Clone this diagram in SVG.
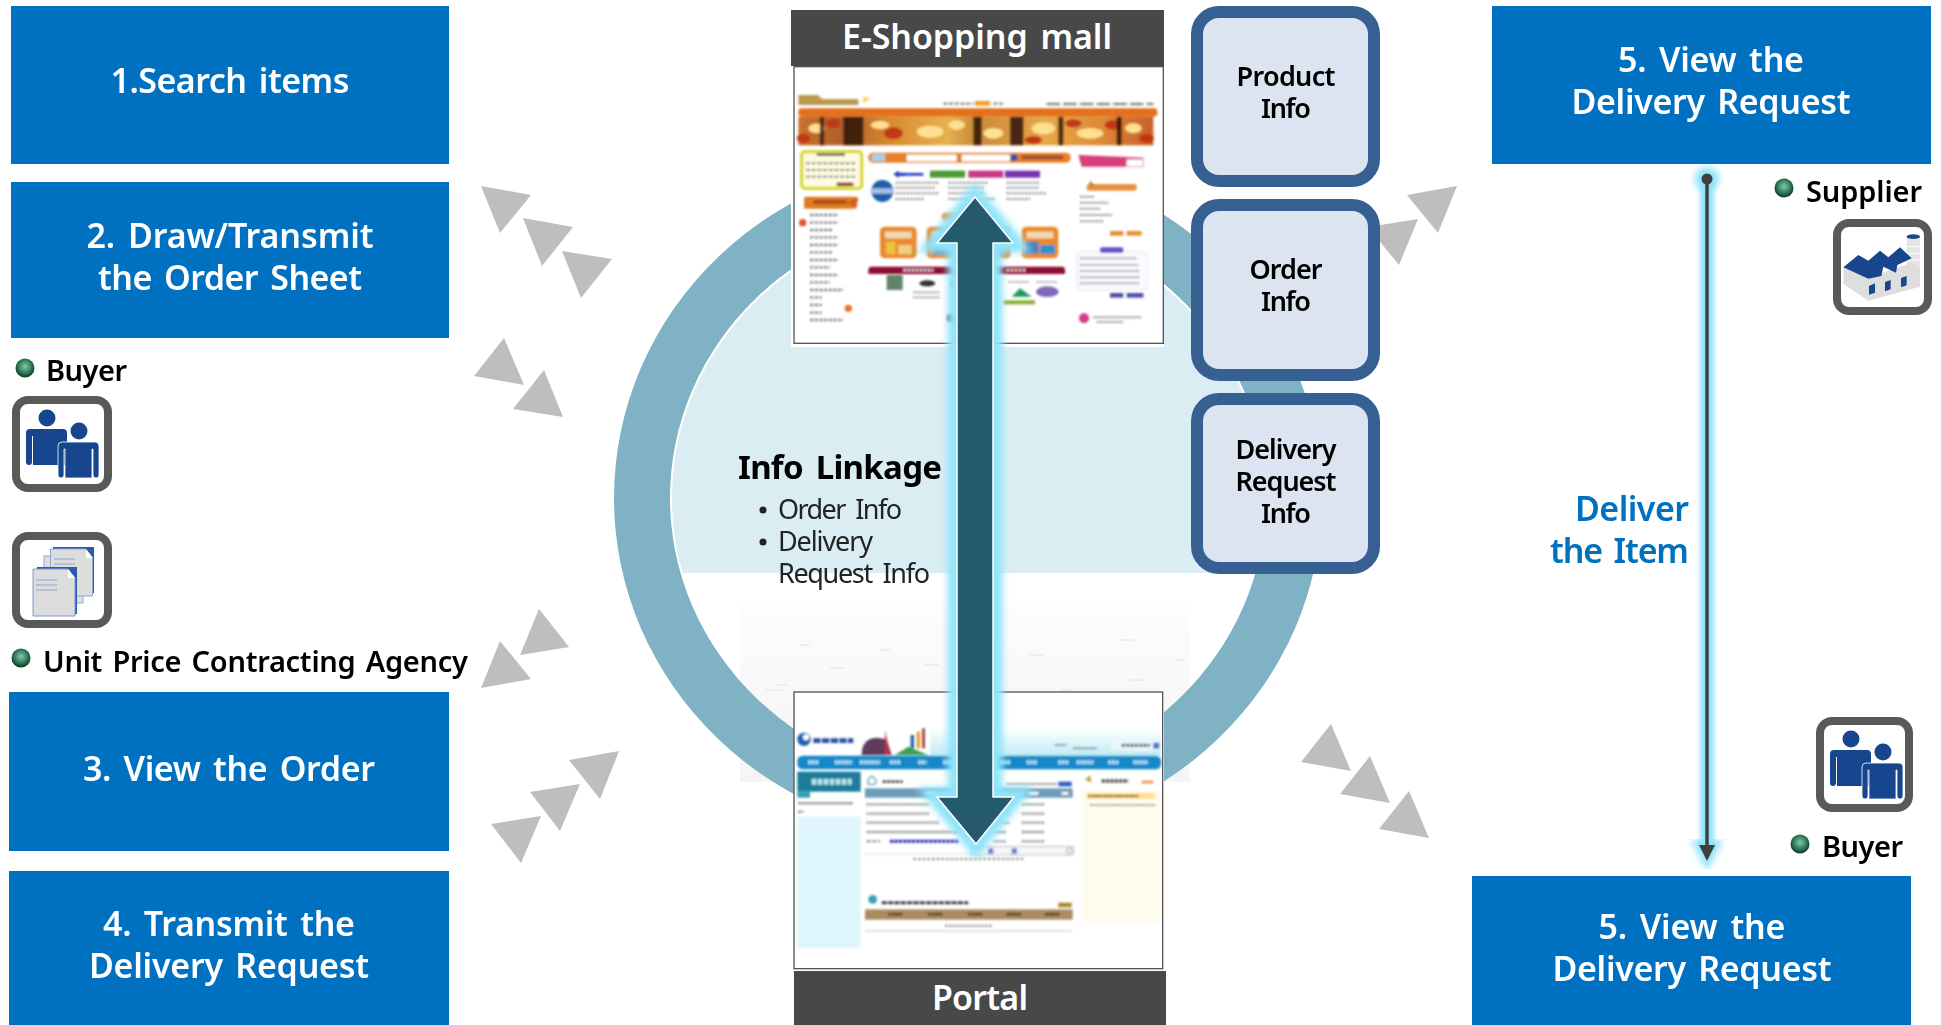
<svg xmlns="http://www.w3.org/2000/svg" xmlns:xlink="http://www.w3.org/1999/xlink" width="1941" height="1025" viewBox="0 0 1941 1025">
<style>
text{font-family:"Noto Sans","Open Sans","Liberation Sans",sans-serif}
.bx{fill:#0070C0}
.bt{fill:#fff;font-size:34px;font-weight:600;text-anchor:middle;word-spacing:4px}
.hd{fill:#484848}
.info{fill:#DBE4F0;stroke:#376092;stroke-width:12}
.it{fill:#000;font-size:27px;font-weight:600;text-anchor:middle}
.lb{fill:#000;font-size:29px;font-weight:600;word-spacing:3px}
.tri{fill:#BEBEBE}
.ic{fill:#fff;stroke:#595959;stroke-width:8}
.p{fill:#17468F}
.sm{fill:#222;font-size:27px;word-spacing:5px}
.d{stroke:#8A8A8A;stroke-width:5;stroke-dasharray:12 5;fill:none}
</style>
<defs>
<radialGradient id="ball" cx="0.5" cy="0.42" r="0.58"><stop offset="0" stop-color="#8CC4A8"/><stop offset="0.5" stop-color="#3A8A68"/><stop offset="1" stop-color="#0C3324"/></radialGradient>
<linearGradient id="autumn" x1="0" x2="1" y1="0" y2="0">
<stop offset="0" stop-color="#C9702A"/><stop offset="0.13" stop-color="#B0602A"/><stop offset="0.26" stop-color="#D98A30"/><stop offset="0.42" stop-color="#E8B050"/><stop offset="0.5" stop-color="#C88A38"/><stop offset="0.7" stop-color="#E8A848"/><stop offset="0.85" stop-color="#DD8A38"/><stop offset="1" stop-color="#C8602A"/></linearGradient>
<linearGradient id="sky" x1="0" x2="0" y1="0" y2="1"><stop offset="0" stop-color="#fff"/><stop offset="1" stop-color="#BCEBF5"/></linearGradient>
<linearGradient id="floor" x1="0" x2="0" y1="0" y2="1"><stop offset="0" stop-color="#FDFDFD"/><stop offset="0.5" stop-color="#F8F8F8"/><stop offset="1" stop-color="#F5F5F5"/></linearGradient>
<filter id="soft" x="-5%" y="-5%" width="110%" height="110%"><feGaussianBlur stdDeviation="3"/></filter>
<filter id="glow" x="-100%" y="-10%" width="300%" height="120%"><feGaussianBlur stdDeviation="3.500"/></filter>
<filter id="glowline" x="-100%" y="-5%" width="300%" height="110%"><feGaussianBlur stdDeviation="2"/></filter>
<clipPath id="upper"><rect x="600" y="150" width="720" height="423"/></clipPath>
<circle id="bullet" r="9.500" fill="url(#ball)"/>
<g id="people">
<circle class="p" cx="35" cy="22" r="8.500"/>
<path class="p" d="M14 37q0-4 4-4h33q4 0 4 4v32H21V40h-1v26q0 3-3 3t-3-3z"/>
<circle class="p" cx="67" cy="35" r="8.500"/>
<path class="p" d="M46 50q0-4 4-4h33q4 0 4 4v29q0 3-3 3t-3-3V53h-1v29H53V53h-1v26q0 3-3 3t-3-3z" stroke="#fff" stroke-width="0.800"/>
</g>
</defs>
<rect width="1941" height="1025" fill="#fff"/>

<g id="ring">
<rect x="740" y="605" width="450" height="177" fill="url(#floor)"/>
<g stroke="#E2E2E2" stroke-width="1"><path d="M765 690h20M830 668h14M925 665h14M1030 655h14M775 685h12M840 720h16M930 725h16M1025 720h16M765 732l-12 6M1120 640h14M1130 680h14M1175 660h10M800 645h10M880 650h10M980 640h10M1060 690h12"/></g>
<path fill-rule="evenodd" fill="#7FB2C4" d="M614 498a354 340 0 1 0 708 0a354 340 0 1 0-708 0zM670 498a298 284 0 1 0 596 0a298 284 0 1 0-596 0z"/>
<ellipse cx="968" cy="498" rx="296" ry="282" fill="#D9EDF3" clip-path="url(#upper)"/>
</g>

<g id="triangles">
<polygon class="tri" points="481,186 531,195 500,233"/>
<polygon class="tri" points="523,218 573,227 542,266"/>
<polygon class="tri" points="562,251 612,259 581,298"/>
<polygon class="tri" points="504,338 474,376 524,385"/>
<polygon class="tri" points="544,370 513,409 563,417"/>
<polygon class="tri" points="539,609 520,655 569,647"/>
<polygon class="tri" points="500,641 481,688 531,679"/>
<polygon class="tri" points="569,760 619,751 600,799"/>
<polygon class="tri" points="530,792 580,784 560,831"/>
<polygon class="tri" points="491,824 541,816 521,863"/>
<polygon class="tri" points="1407,195 1457,186 1438,233"/>
<polygon class="tri" points="1368,227 1418,219 1399,265"/>
<polygon class="tri" points="1331,724 1301,762 1351,771"/>
<polygon class="tri" points="1370,756 1340,794 1390,803"/>
<polygon class="tri" points="1409,791 1379,829 1429,838"/>
</g>

<g id="eshop">
<rect x="791" y="66" width="373" height="281" fill="#fff"/>
<g transform="translate(780 0) scale(.33333)">
<g filter="url(#soft)">
<path d="M55 285h60l10 12h110v18H55z" fill="#B89A50"/><path d="M250 290l20 5-20 15z" fill="#F0D040"/>
<path d="M490 311h90M640 311h30" class="d" style="stroke-width:7"/><rect x="585" y="303" width="45" height="14" fill="#F0A020"/>
<path d="M800 312h320" class="d" style="stroke-width:7;stroke-dasharray:40 10"/>
<rect x="55" y="325" width="1077" height="25" rx="10" fill="#E4701A"/>
<rect x="55" y="350" width="1065" height="86" fill="url(#autumn)"/>
<g fill="#FFE090"><ellipse cx="110" cy="385" rx="25" ry="14"/><ellipse cx="300" cy="375" rx="28" ry="12"/><ellipse cx="450" cy="395" rx="40" ry="18"/><ellipse cx="530" cy="375" rx="25" ry="14"/><ellipse cx="640" cy="400" rx="30" ry="16"/><ellipse cx="790" cy="385" rx="35" ry="18"/><ellipse cx="930" cy="400" rx="40" ry="16"/><ellipse cx="1060" cy="385" rx="25" ry="15"/></g>
<g fill="#C03818"><ellipse cx="70" cy="415" rx="20" ry="14"/><ellipse cx="160" cy="370" rx="22" ry="14"/><ellipse cx="340" cy="400" rx="28" ry="18"/><ellipse cx="760" cy="420" rx="26" ry="12"/><ellipse cx="880" cy="370" rx="24" ry="12"/><ellipse cx="1000" cy="375" rx="26" ry="14"/><ellipse cx="1100" cy="415" rx="22" ry="14"/></g>
<path d="M190 350h60v86h-60zM690 350h40v86h-40zM835 350h15v86h-15zM580 350h25v86h-25zM1010 350h15v86h-15zM120 350h12v86h-12z" fill="#2E140A" opacity=".85"/>
<rect x="65" y="455" width="180" height="110" rx="10" fill="#FFFBE0" stroke="#D8D830" stroke-width="10"/>
<path d="M110 464h85" stroke="#666" stroke-width="8"/><path d="M78 490h150M78 510h150M78 530h150" class="d" style="stroke-width:6"/>
<path d="M170 553h50" stroke="#8A4020" stroke-width="11"/>
<rect x="72" y="590" width="158" height="36" rx="6" fill="#E07A20"/><rect x="100" y="600" width="100" height="12" fill="#A85018"/>
<path d="M90 645h85M90 668h85M90 690h70M90 712h85M90 735h85M90 757h70M90 780h85M90 802h60M90 825h85M90 847h60M90 870h100M90 892h35M90 915h35M90 938h35M90 960h100" class="d" style="stroke-dasharray:10 4;stroke-width:7"/>
<circle cx="68" cy="668" r="11" fill="#E8502A"/><circle cx="205" cy="925" r="11" fill="#E8702A"/>
<rect x="265" y="458" width="607" height="30" rx="14" fill="#E8802A"/>
<rect x="275" y="462" width="40" height="22" fill="#A8D0E8"/><rect x="380" y="464" width="150" height="20" fill="#fff"/><rect x="545" y="464" width="145" height="20" fill="#fff"/><rect x="692" y="464" width="20" height="18" fill="#2A50B0"/>
<rect x="725" y="466" width="125" height="12" fill="#A05030"/>
<path d="M895 465l195 8v27H905z" fill="#D83C7A"/><rect x="1040" y="478" width="50" height="22" fill="#fff" stroke="#E0A0B8" stroke-width="3"/>
<path d="M340 522l16-10v6h20v10h-20v6z" fill="#2040C0"/><path d="M370 523h60" stroke="#2040C0" stroke-width="8"/>
<rect x="450" y="512" width="105" height="21" fill="#4A9A30"/><rect x="565" y="512" width="105" height="21" fill="#C8388A"/><rect x="675" y="512" width="105" height="21" fill="#7A30B0"/>
<circle cx="307" cy="573" r="33" fill="#1E5FA8"/><rect x="272" y="565" width="70" height="16" fill="#A8C0E8"/>
<path d="M347 548h130M347 563h120M347 580h130M347 597h85M505 548h120M505 563h110M505 580h110M505 597h140M680 548h100M680 563h95M680 580h120M680 597h70" class="d" style="stroke-dasharray:7 4;stroke-width:6"/>
<rect x="485" y="638" width="150" height="24" rx="12" fill="#E89A40"/>
<rect x="300" y="680" width="110" height="95" rx="14" fill="#E88A30"/><rect x="440" y="680" width="110" height="95" rx="14" fill="#E88A30"/><rect x="582" y="680" width="110" height="95" rx="14" fill="#E88A30"/><rect x="725" y="680" width="110" height="95" rx="14" fill="#E88A30"/>
<rect x="315" y="695" width="80" height="20" fill="#F4D8B0"/><rect x="455" y="695" width="80" height="20" fill="#F4D8B0"/><rect x="740" y="695" width="80" height="20" fill="#F4D8B0"/>
<rect x="318" y="725" width="28" height="38" fill="#F0C040"/><rect x="355" y="735" width="40" height="28" fill="#F0D080"/><rect x="735" y="725" width="40" height="36" fill="#4080C0"/><rect x="780" y="735" width="45" height="26" fill="#3090D0"/><rect x="460" y="735" width="70" height="30" fill="#5E8A9A"/><rect x="600" y="735" width="70" height="30" fill="#6090C0"/>
<path d="M265 822v-12q0-10 10-10h570q10 0 10 10v12z" fill="#8E1030"/><path d="M370 811h90M680 811h60" stroke="#fff" stroke-width="6" stroke-dasharray="8 4"/>
<rect x="320" y="825" width="48" height="45" fill="#5E8468"/><ellipse cx="442" cy="850" rx="24" ry="9" fill="#333"/><rect x="512" y="840" width="16" height="20" fill="#3A9A48"/><path d="M695 890l25-25 35 25z" fill="#1E9A58"/><ellipse cx="802" cy="875" rx="34" ry="16" fill="#8068B8"/>
<path d="M400 877h80M400 892h80M685 846h60M770 846h60" class="d" style="stroke-width:5;stroke-dasharray:6 3"/>
<rect x="670" y="901" width="95" height="12" fill="#88B030"/>
<rect x="500" y="942" width="150" height="24" rx="12" fill="#555"/>
<rect x="920" y="552" width="150" height="20" rx="8" fill="#E89040"/><path d="M930 545l8 12" stroke="#806020" stroke-width="5"/>
<path d="M900 590h45M900 608h85M900 626h60M900 645h95M900 664h70" class="d" style="stroke-dasharray:6 3;stroke-width:6"/>
<rect x="990" y="693" width="40" height="14" fill="#E89030"/><rect x="1040" y="693" width="45" height="14" fill="#E89030"/>
<rect x="890" y="755" width="212" height="115" rx="10" fill="#FAFAFF" stroke="#E4E4F0" stroke-width="3"/>
<rect x="960" y="742" width="70" height="17" rx="6" fill="#6A50C8"/>
<path d="M900 775h170M900 795h175M900 813h180M900 832h180M900 850h180" class="d" style="stroke-dasharray:6 3;stroke-width:6"/>
<rect x="990" y="879" width="40" height="14" fill="#5050B0"/><rect x="1040" y="879" width="50" height="14" fill="#5050B0"/>
<circle cx="912" cy="955" r="15" fill="#D03C88"/><path d="M940 952h145M950 966h80" class="d" style="stroke-width:6;stroke-dasharray:6 3"/>
<path d="M235 590l-5 30-30-10z" fill="#D06020"/>
</g>
<rect x="42" y="200" width="1108" height="830" fill="none" stroke="#555" stroke-width="4"/>
</g>
<rect class="hd" x="791" y="10" width="373" height="56"/>
<text x="977" y="49" fill="#fff" font-size="34" font-weight="600" text-anchor="middle" word-spacing="4" textLength="270">E-Shopping mall</text>
</g>

<g id="portal">
<rect x="794" y="692" width="370" height="278" fill="#fff"/>
<g transform="translate(780 680) scale(.33333)">
<g filter="url(#soft)">
<rect x="450" y="145" width="692" height="85" fill="url(#sky)"/>
<circle cx="72" cy="178" r="20" fill="#1E60B0"/><circle cx="78" cy="172" r="9" fill="#fff"/>
<path d="M100 182h120" stroke="#2A50A0" stroke-width="14" stroke-dasharray="22 4"/>
<path d="M245 225q0-50 45-52l30 5 15 47z" fill="#5E3A60"/><path d="M315 150l15 75h-15z" fill="#C03040"/>
<path d="M345 225l40-25 60 25z" fill="#3AA050"/><rect x="392" y="165" width="10" height="40" fill="#2060B0"/><rect x="410" y="155" width="10" height="50" fill="#E0A030"/><rect x="426" y="145" width="9" height="60" fill="#B04040"/>
<path d="M825 195h35M880 205h70" stroke="#777" stroke-width="6" stroke-dasharray="8 3"/>
<rect x="995" y="180" width="145" height="32" fill="#E8F8FC"/><path d="M1025 196h85" stroke="#667" stroke-width="10" stroke-dasharray="10 3"/><rect x="1120" y="188" width="18" height="18" fill="#5070C8"/>
<rect x="52" y="227" width="1091" height="41" rx="16" fill="#1288C8"/>
<path d="M85 247h30M165 247h50M240 247h60M330 247h30M415 247h25M490 247h40M660 247h30M740 247h30M835 247h30M890 247h50M985 247h30M1060 247h45" stroke="#BFE6F8" stroke-width="12" stroke-dasharray="8 3"/>
<rect x="52" y="275" width="190" height="60" fill="#1C7C9B"/><path d="M95 305h120" stroke="#BFE8F0" stroke-width="18" stroke-dasharray="14 4"/>
<rect x="52" y="335" width="38" height="18" fill="#30A0B0"/>
<path d="M55 370h165M55 395h15" stroke="#666" stroke-width="6" stroke-dasharray="8 3"/>
<rect x="52" y="410" width="190" height="395" fill="#DFF5FC"/>
<path d="M275 288q-15 10-10 25h20q10-12-10-25z" fill="none" stroke="#50A0C0" stroke-width="4"/>
<path d="M308 305h60" stroke="#555" stroke-width="8" stroke-dasharray="10 3"/><path d="M680 312h150" stroke="#888" stroke-width="6" stroke-dasharray="8 3"/><rect x="835" y="305" width="40" height="14" fill="#3060C0"/>
<rect x="255" y="325" width="623" height="28" fill="#6E9CB8"/>
<path d="M440 340h30M745 340h30M845 340h20" stroke="#fff" stroke-width="8"/>
<path d="M260 373h190M260 401h190M260 428h220M260 456h280M725 373h70M725 401h70M725 428h70M725 456h70M725 484h70M640 400h50M640 428h50M640 456h40M640 484h40" class="d" style="stroke-dasharray:7 3;stroke-width:7"/>
<path d="M330 484h205" stroke="#2020C0" stroke-width="9" stroke-dasharray="10 3"/><path d="M260 484h40" class="d" style="stroke-width:6"/>
<path d="M255 522h320" stroke="#CCC" stroke-width="2"/>
<rect x="575" y="500" width="305" height="25" fill="#F4F6FA" stroke="#999" stroke-width="2"/><rect x="624" y="505" width="16" height="16" fill="#6080C8"/><rect x="695" y="505" width="16" height="16" fill="#6080C8"/><circle cx="868" cy="512" r="8" fill="none" stroke="#777" stroke-width="2"/>
<path d="M400 537h330" class="d" style="stroke-width:6;stroke-dasharray:8 6"/>
<circle cx="278" cy="658" r="13" fill="#3AA0C0"/><path d="M305 668h260" stroke="#444" stroke-width="9" stroke-dasharray="16 3"/>
<rect x="835" y="668" width="40" height="14" fill="#A88A30"/>
<rect x="255" y="688" width="623" height="31" fill="#AB8C5E"/>
<path d="M325 703h45M445 703h45M565 703h45M680 703h45M795 703h45" stroke="#432" stroke-width="9" stroke-dasharray="8 3"/>
<path d="M495 737h140" class="d" style="stroke-width:6;stroke-dasharray:8 4"/><path d="M255 753h620" stroke="#D0C4A8" stroke-width="3"/>
<rect x="905" y="330" width="238" height="395" fill="#FFFBEF"/>
<path d="M915 300l15-15 5 22z" fill="#C8A030"/><path d="M965 303h80" stroke="#555" stroke-width="10" stroke-dasharray="10 3"/><path d="M1085 306h35" stroke="#F09050" stroke-width="8"/>
<path d="M920 348h205" stroke="#FFE090" stroke-width="18"/><path d="M925 348h150" stroke="#885020" stroke-width="7" stroke-dasharray="8 3"/><path d="M930 375h195" stroke="#777" stroke-width="5" stroke-dasharray="8 3"/>
</g>
<rect x="42" y="36" width="1106" height="830" fill="none" stroke="#555" stroke-width="4"/>
</g>
<rect class="hd" x="794" y="971" width="372" height="54"/>
<text x="980" y="1010" fill="#fff" font-size="34" font-weight="600" text-anchor="middle" textLength="96">Portal</text>
</g>

<g id="link-arrow">
<path d="M975 197L1013 243H993V797H1014L976 844L937 797H957V243H937z" fill="#7FDFF8" stroke="#8FE4FA" stroke-width="19" filter="url(#glow)"/>
<path d="M975 197L1013 243H993V797H1014L976 844L937 797H957V243H937z" fill="#245A6B" stroke="#fff" stroke-width="1.500"/>
</g>

<g id="info-linkage">
<text x="738" y="479" font-size="33" font-weight="700" fill="#000" word-spacing="5" textLength="204">Info Linkage</text>
<circle cx="763" cy="510" r="3.500" fill="#222"/><circle cx="763" cy="542" r="3.500" fill="#222"/>
<text class="sm" x="778" y="519" textLength="124">Order Info</text>
<text class="sm" x="778" y="551" textLength="95">Delivery</text>
<text class="sm" x="778" y="583" textLength="152">Request Info</text>
</g>

<g id="box1"><rect class="bx" x="11" y="6" width="438" height="158"/><text class="bt" x="230" y="93" textLength="239">1.Search items</text></g>
<g id="box2"><rect class="bx" x="11" y="182" width="438" height="156"/><text class="bt" x="230" y="248" textLength="287">2. Draw/Transmit</text><text class="bt" x="230" y="290" textLength="264">the Order Sheet</text></g>
<g id="box3"><rect class="bx" x="9" y="692" width="440" height="159"/><text class="bt" x="229" y="781" textLength="292">3. View the Order</text></g>
<g id="box4"><rect class="bx" x="9" y="871" width="440" height="154"/><text class="bt" x="229" y="936" textLength="252">4. Transmit the</text><text class="bt" x="229" y="978" textLength="280">Delivery Request</text></g>
<g id="box5a"><rect class="bx" x="1492" y="6" width="439" height="158"/><text class="bt" x="1711" y="72" textLength="186">5. View the</text><text class="bt" x="1711" y="114" textLength="279">Delivery Request</text></g>
<g id="box5b"><rect class="bx" x="1472" y="876" width="439" height="149"/><text class="bt" x="1692" y="939" textLength="187">5. View the</text><text class="bt" x="1692" y="981" textLength="279">Delivery Request</text></g>

<g id="product-info"><rect class="info" x="1197" y="12" width="177" height="169" rx="22"/><text class="it" x="1286" y="86" textLength="99">Product</text><text class="it" x="1286" y="118" textLength="50">Info</text></g>
<g id="order-info"><rect class="info" x="1197" y="205" width="177" height="170" rx="22"/><text class="it" x="1286" y="279" textLength="73">Order</text><text class="it" x="1286" y="311" textLength="50">Info</text></g>
<g id="delivery-info"><rect class="info" x="1197" y="399" width="177" height="169" rx="22"/><text class="it" x="1286" y="459" textLength="101">Delivery</text><text class="it" x="1286" y="491" textLength="101">Request</text><text class="it" x="1286" y="523" textLength="50">Info</text></g>

<g id="buyer-left">
<use xlink:href="#bullet" href="#bullet" x="25" y="368"/>
<text class="lb" x="46" y="381" textLength="81">Buyer</text>
<rect class="ic" x="16" y="400" width="92" height="88" rx="12"/>
<use xlink:href="#people" href="#people" x="12" y="396"/>
</g>

<g id="agency-left">
<rect class="ic" x="16" y="536" width="92" height="88" rx="12"/>
<g transform="translate(12 532)">
<path d="M32 24h39v47H32z" fill="#DDD" stroke="#8FA8D8"/>
<path d="M41 15h41v46H41z" fill="#2A5BB0"/>
<path d="M38.500 17h35l7 9v38h-42z" fill="#DDD" stroke="#8FA8D8"/>
<path d="M74 17v9h7z" fill="#fff"/>
<path d="M42 27h21M42 32h21M42 37h21" stroke="#A8B8D8" stroke-width="1.500"/>
<path d="M25 35h40v47H25z" fill="#2A5BB0"/>
<path d="M21 37h35l7 9v38H21z" fill="#DDD" stroke="#7F9BD0"/>
<path d="M56 37v9h7z" fill="#fff"/>
<path d="M24 48h21M24 53h21M24 58h21" stroke="#A8B8D8" stroke-width="1.500"/>
</g>
<use xlink:href="#bullet" href="#bullet" x="21" y="658"/>
<text class="lb" x="43" y="672" textLength="425">Unit Price Contracting Agency</text>
</g>

<g id="supplier">
<use xlink:href="#bullet" href="#bullet" x="1784" y="188"/>
<text class="lb" x="1806" y="202" textLength="116">Supplier</text>
<rect class="ic" x="1837" y="223" width="91" height="88" rx="12"/>
<g transform="translate(1680 150) scale(.33333)">
<rect x="680" y="260" width="40" height="145" fill="#E4E4E4"/><ellipse cx="700" cy="260" rx="20" ry="7" fill="#17468F"/>
<path d="M680 290h40M680 310h40M680 330h40M680 350h40M680 370h40M680 390h40" stroke="#fff" stroke-width="3"/>
<path d="M490 352v50l75 50 155-42v-60l-30-10-60 20-65 25z" fill="#DEDEDE"/>
<path d="M490 352L535 315L565 332L600 302L625 322L660 292L695 325L652 345L648 368L610 350L604 378L565 386Z" fill="#17468F"/>
<path d="M567 408l18-8v28l-18 6zM615 396l17-6v28l-17 6zM663 384l17-6v28l-17 6z" fill="#17468F"/>
</g>
</g>

<g id="buyer-right">
<rect class="ic" x="1820" y="721" width="89" height="87" rx="12"/>
<use xlink:href="#people" href="#people" x="1816" y="717"/>
<use xlink:href="#bullet" href="#bullet" x="1800" y="844"/>
<text class="lb" x="1822" y="857" textLength="81">Buyer</text>
</g>

<g id="connectors">
<rect x="1700" y="179" width="14" height="671" fill="#8FE4FA" filter="url(#glowline)"/>
<circle cx="1707" cy="179" r="12" fill="#8FE4FA" filter="url(#glow)"/>
<path d="M1695 842h24l-12 24z" fill="#8FE4FA" stroke="#8FE4FA" stroke-width="5" filter="url(#glow)"/>
<path d="M1707 179V850" stroke="#404040" stroke-width="3.500" fill="none"/>
<circle cx="1707" cy="179" r="5.500" fill="#404040"/>
<path d="M1699 845h16l-8 16z" fill="#404040"/>
</g>
<g id="deliver" fill="#0070C0" font-size="34" font-weight="600" text-anchor="end" word-spacing="4">
<text x="1689" y="521" textLength="114">Deliver</text>
<text x="1689" y="563" textLength="139">the Item</text>
</g>
</svg>
